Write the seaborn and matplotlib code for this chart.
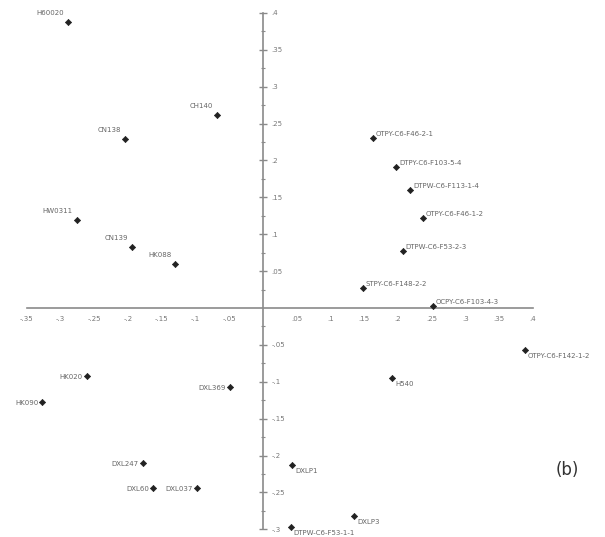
import numpy as np
import pandas as pd
import matplotlib
matplotlib.use("Agg")
import matplotlib.pyplot as plt
from matplotlib.ticker import FixedLocator, FuncFormatter
import seaborn as sns

sns.set_style("white")

# dados (coordenadas dos pontos)
labels = ["H60020", "CH140", "CN138", "HW0311", "CN139", "HK088",
          "OTPY-C6-F46-2-1", "DTPY-C6-F103-5-4", "DTPW-C6-F113-1-4",
          "OTPY-C6-F46-1-2", "DTPW-C6-F53-2-3", "STPY-C6-F148-2-2",
          "OCPY-C6-F103-4-3", "OTPY-C6-F142-1-2", "H540",
          "HK020", "HK090", "DXL369", "DXL247", "DXL60", "DXL037",
          "DXLP1", "DXLP3", "DTPW-C6-F53-1-1"]
xs = [-0.289, -0.068, -0.204, -0.276, -0.194, -0.130,
      0.163, 0.197, 0.218, 0.237, 0.207, 0.148,
      0.252, 0.388, 0.191,
      -0.261, -0.327, -0.049, -0.178, -0.163, -0.098,
      0.043, 0.135, 0.041]
ys = [0.388, 0.262, 0.229, 0.119, 0.083, 0.060,
      0.231, 0.191, 0.160, 0.122, 0.077, 0.027,
      0.003, -0.057, -0.095,
      -0.092, -0.127, -0.107, -0.210, -0.244, -0.244,
      -0.213, -0.282, -0.297]
# posição do rótulo em relação ao ponto
pos = ["ul", "ul", "ul", "ul", "ul", "ul",
       "r", "r", "r", "r", "r", "r",
       "r", "lr", "lr",
       "l", "l", "l", "l", "l", "l",
       "lr", "lr", "lr"]

# ticks dos eixos
xticks = [-0.35, -0.3, -0.25, -0.2, -0.15, -0.1, -0.05, 0.05,
          0.1, 0.15, 0.2, 0.25, 0.3, 0.35, 0.4]
yticks = [-0.3, -0.25, -0.2, -0.15, -0.1, -0.05, 0.05,
          0.1, 0.15, 0.2, 0.25, 0.3, 0.35, 0.4]

df = pd.DataFrame({"x": xs, "y": ys, "label": labels, "pos": pos})

estilo = {
    "ul": dict(xytext=(-4, 6), ha="right", va="bottom"),
    "r": dict(xytext=(3, 1), ha="left", va="bottom"),
    "lr": dict(xytext=(3, -3), ha="left", va="top"),
    "l": dict(xytext=(-4, -1), ha="right", va="center"),
}

fig = plt.figure(figsize=(6.05, 5.37), dpi=100)
ax = fig.add_axes([0, 0, 1, 1])

sns.scatterplot(data=df, x="x", y="y", ax=ax, color="#222222",
                marker="D", s=10, edgecolor="#222222", linewidth=0.5, zorder=3)

for _, r in df.iterrows():
    ax.annotate(r["label"], (r["x"], r["y"]), textcoords="offset pixels",
                fontsize=5, color="#666666", annotation_clip=False,
                **estilo[r["pos"]])

ax.set_xlim(-0.3896, 0.5067)
ax.set_ylim(-0.3105, 0.4176)

gc = "#8a8a8a"
ax.spines["top"].set_visible(False)
ax.spines["left"].set_visible(False)
ax.spines["bottom"].set_position(("data", 0))
ax.spines["right"].set_position(("data", 0))
ax.spines["bottom"].set_bounds(-0.35, 0.4)
ax.spines["right"].set_bounds(-0.3, 0.4)
for s in ["bottom", "right"]:
    ax.spines[s].set_color(gc)
    ax.spines[s].set_linewidth(1.2)

ax.yaxis.tick_right()
ax.xaxis.set_major_locator(FixedLocator(xticks))
ax.yaxis.set_major_locator(FixedLocator(yticks))
ax.xaxis.set_minor_locator(FixedLocator(np.arange(-0.325, 0.4, 0.05)))
ax.yaxis.set_minor_locator(FixedLocator(np.arange(-0.275, 0.4, 0.05)))


def fmt(v, p):
    s = f"{v:.2f}".rstrip("0").rstrip(".")
    return s.replace("0.", ".")


ax.xaxis.set_major_formatter(FuncFormatter(fmt))
ax.yaxis.set_major_formatter(FuncFormatter(fmt))
ax.tick_params(which="major", direction="inout", length=6, width=1, color=gc,
               labelsize=5, labelcolor="#777777", pad=3)
ax.tick_params(which="minor", direction="inout", length=3, width=0.8, color=gc)
ax.set_xlabel("")
ax.set_ylabel("")

fig.text(0.938, 0.125, "(b)", fontsize=12, color="#333333", ha="center", va="center")

fig.savefig("out.png", dpi=100)
